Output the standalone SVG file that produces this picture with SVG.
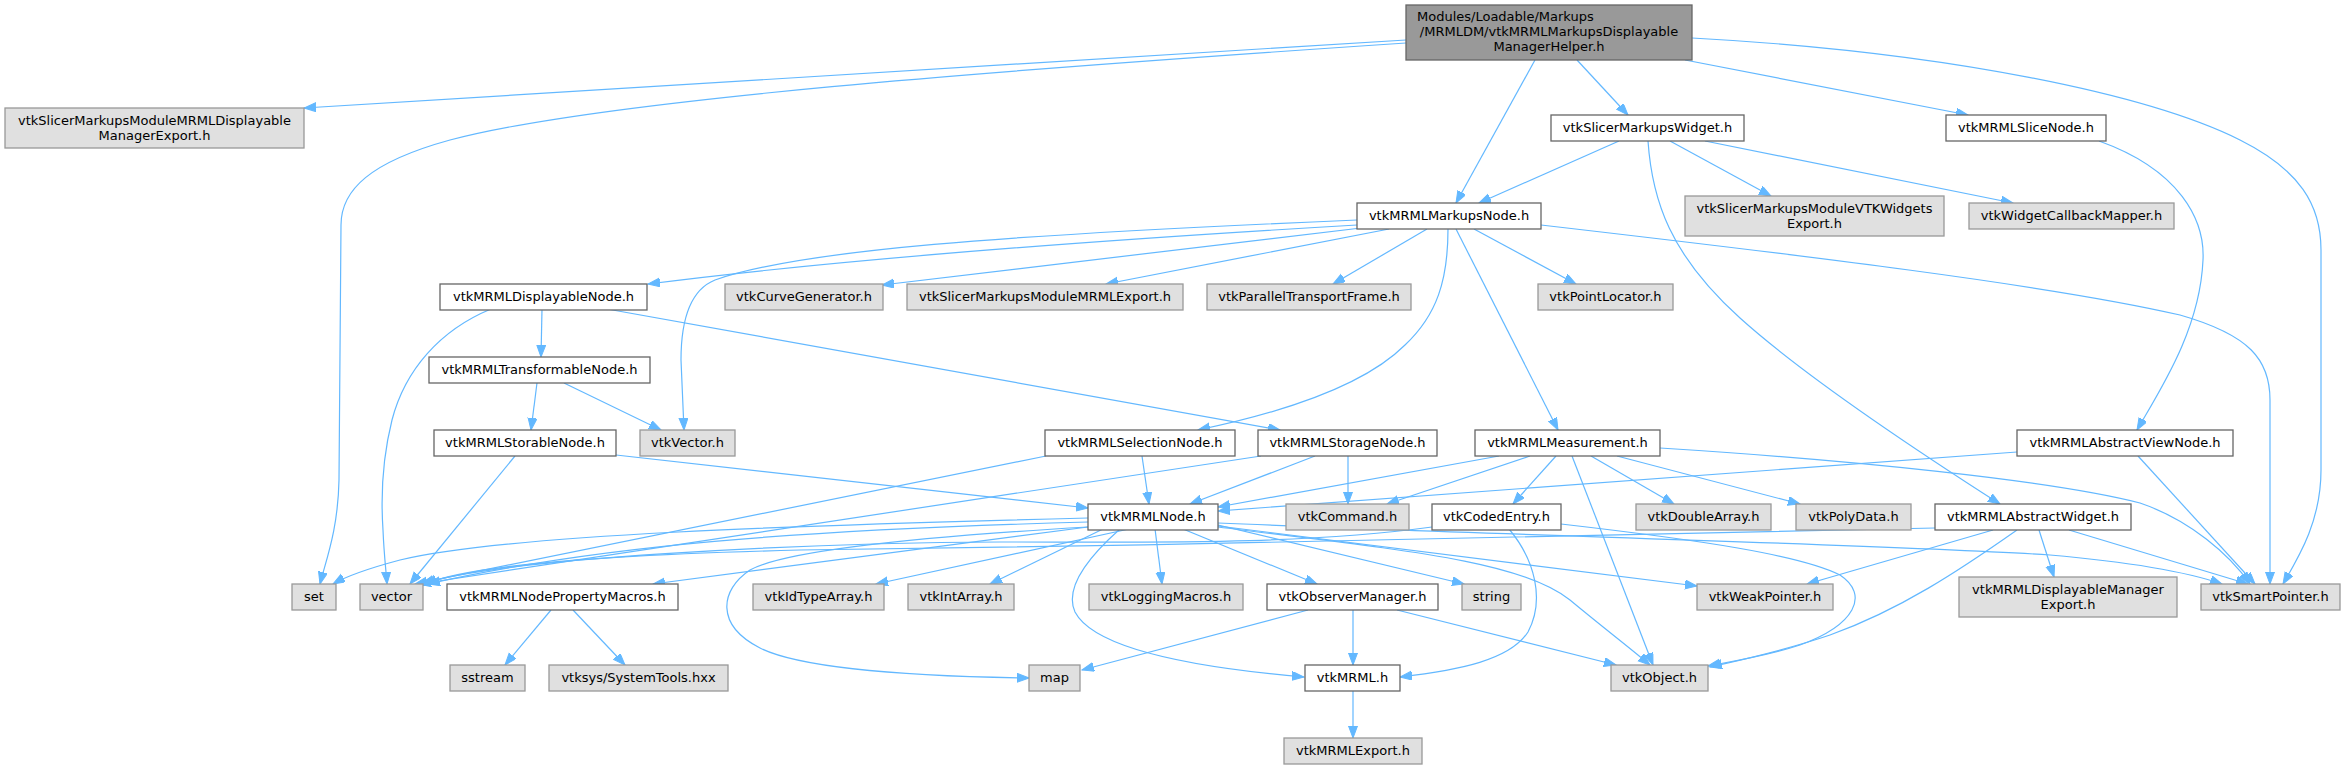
<svg xmlns="http://www.w3.org/2000/svg" width="2345" height="769" viewBox="0 0 2345 769">
<style>
.n rect{stroke-width:1.3}
.w rect{fill:#ffffff;stroke:#666666}
.g rect{fill:#e0e0e0;stroke:#999999}
.r rect{fill:#999999;stroke:#666666}
text{font-family:"DejaVu Sans","Liberation Sans",sans-serif;font-size:13px;fill:#000000;text-anchor:middle}
#edges path{fill:none;stroke:#63b8ff;stroke-width:1.2;marker-end:url(#ah)}
</style>
<defs>
<marker id="ah" markerUnits="userSpaceOnUse" markerWidth="13" markerHeight="10" refX="12" refY="4.5" orient="auto">
<path d="M0,0 L12,4.5 L0,9 z" fill="#63b8ff" stroke="#63b8ff" stroke-width="1"/>
</marker>
</defs>
<rect width="2345" height="769" fill="#ffffff"/>
<g id="edges">
<path d="M1406,40 C1000,62 650,85 304,108"/>
<path d="M1406,43 C1000,70 600,100 450,140 C370,162 341,190 341,225 L339,480 C338,530 326,560 320,584"/>
<path d="M1535,60 L1456,203"/>
<path d="M1577,60 L1628,115"/>
<path d="M1685,60 L1968,115"/>
<path d="M1692,38 C1950,52 2150,95 2240,140 C2300,170 2321,205 2321,250 L2321,470 C2321,520 2300,555 2283,584"/>
<path d="M1619,141 L1479,203"/>
<path d="M1670,141 L1771,196"/>
<path d="M1705,141 L2013,203"/>
<path d="M1648,141 C1652,200 1670,255 1740,318 C1800,372 1900,440 2000,504"/>
<path d="M2099,141 C2180,170 2205,220 2203,260 C2200,330 2160,390 2137,430"/>
<path d="M1357,220 C1000,235 800,250 715,280 C690,290 681,320 681,360 L684,430"/>
<path d="M1357,225 C1100,240 850,258 648,284"/>
<path d="M1361,228 L882,285"/>
<path d="M1389,229 L1106,284"/>
<path d="M1427,229 L1333,284"/>
<path d="M1448,229 C1448,280 1437,315 1405,345 C1360,390 1270,415 1198,430"/>
<path d="M1456,229 L1558,430"/>
<path d="M1474,229 L1576,284"/>
<path d="M1541,225 C1800,255 2050,285 2180,315 C2250,335 2270,360 2270,400 L2270,584"/>
<path d="M542,309 L541,357"/>
<path d="M491,309 C440,330 405,370 392,420 C382,460 381,500 383,530 C384,555 386,570 387,584"/>
<path d="M607,309 L1280,430"/>
<path d="M537,383 L531,430"/>
<path d="M564,383 L661,430"/>
<path d="M616,455 L1088,508"/>
<path d="M515,456 L410,584"/>
<path d="M1142,456 L1149,504"/>
<path d="M1046,456 L415,584"/>
<path d="M1315,456 L1190,504"/>
<path d="M1348,456 L1348,504"/>
<path d="M1261,456 L419,584"/>
<path d="M1499,456 L1218,507"/>
<path d="M1530,456 L1387,504"/>
<path d="M1556,456 L1513,504"/>
<path d="M1572,456 L1653,665"/>
<path d="M1591,456 L1674,504"/>
<path d="M1617,456 L1800,504"/>
<path d="M1660,448 C1850,460 2050,480 2140,503 C2190,520 2230,555 2250,584"/>
<path d="M2017,452 L1218,511"/>
<path d="M2138,456 L2255,584"/>
<path d="M1935,528 C1700,535 1200,545 800,550 C600,555 470,565 425,584"/>
<path d="M1993,530 L1807,584"/>
<path d="M2017,530 C1960,570 1900,610 1830,635 C1780,652 1740,660 1710,667"/>
<path d="M2039,530 L2054,577"/>
<path d="M2069,530 L2248,584"/>
<path d="M1432,527 C1300,545 1150,542 1000,542 C800,543 500,558 422,584"/>
<path d="M1509,529 C1535,560 1545,600 1528,632 C1510,660 1460,670 1400,677"/>
<path d="M1561,524 C1700,540 1800,555 1840,575 C1870,595 1855,625 1800,645 C1770,655 1740,660 1708,666"/>
<path d="M1088,518 C800,525 500,535 400,560 C370,568 345,577 333,584"/>
<path d="M1088,522 C800,530 600,545 428,584"/>
<path d="M1088,527 L653,584"/>
<path d="M1129,529 L876,584"/>
<path d="M1103,529 L990,584"/>
<path d="M1120,529 C1085,560 1065,590 1075,612 C1095,650 1200,668 1304,677"/>
<path d="M1155,529 L1162,584"/>
<path d="M1183,529 L1317,584"/>
<path d="M1218,525 L1464,584"/>
<path d="M1218,527 C1400,550 1520,560 1570,600 C1600,625 1630,648 1650,665"/>
<path d="M1218,526 L1697,586"/>
<path d="M1218,523 C1500,535 1900,545 2050,555 C2130,562 2190,573 2222,584"/>
<path d="M1088,527 C950,535 790,548 750,570 C720,590 715,625 760,648 C800,668 900,676 1029,678"/>
<path d="M1308,610 L1082,670"/>
<path d="M1353,610 L1353,665"/>
<path d="M1397,610 L1616,665"/>
<path d="M1353,691 L1353,738"/>
<path d="M551,610 L505,665"/>
<path d="M573,610 L625,665"/>
</g>
<g id="n_root" class="n r"><rect x="1406" y="5" width="286" height="55"/><text x="1417" y="21" style="text-anchor:start">Modules/Loadable/Markups</text><text x="1549" y="36">/MRMLDM/vtkMRMLMarkupsDisplayable</text><text x="1549" y="51">ManagerHelper.h</text></g>
<g id="n_exp1" class="n g"><rect x="5" y="108" width="299" height="40"/><text x="154.5" y="124.5">vtkSlicerMarkupsModuleMRMLDisplayable</text><text x="154.5" y="139.5">ManagerExport.h</text></g>
<g id="n_widget" class="n w"><rect x="1551" y="115" width="193" height="26"/><text x="1647.5" y="132">vtkSlicerMarkupsWidget.h</text></g>
<g id="n_slice" class="n w"><rect x="1946" y="115" width="160" height="26"/><text x="2026" y="132">vtkMRMLSliceNode.h</text></g>
<g id="n_markups" class="n w"><rect x="1357" y="203" width="184" height="26"/><text x="1449" y="220">vtkMRMLMarkupsNode.h</text></g>
<g id="n_vtkwexp" class="n g"><rect x="1685" y="196" width="259" height="40"/><text x="1814.5" y="212.5">vtkSlicerMarkupsModuleVTKWidgets</text><text x="1814.5" y="227.5">Export.h</text></g>
<g id="n_wcm" class="n g"><rect x="1969" y="203" width="205" height="26"/><text x="2071.5" y="220">vtkWidgetCallbackMapper.h</text></g>
<g id="n_disp" class="n w"><rect x="440" y="284" width="207" height="26"/><text x="543.5" y="301">vtkMRMLDisplayableNode.h</text></g>
<g id="n_curve" class="n g"><rect x="725" y="284" width="158" height="26"/><text x="804" y="301">vtkCurveGenerator.h</text></g>
<g id="n_mexp" class="n g"><rect x="907" y="284" width="276" height="26"/><text x="1045" y="301">vtkSlicerMarkupsModuleMRMLExport.h</text></g>
<g id="n_ptf" class="n g"><rect x="1207" y="284" width="204" height="26"/><text x="1309" y="301">vtkParallelTransportFrame.h</text></g>
<g id="n_ploc" class="n g"><rect x="1538" y="284" width="135" height="26"/><text x="1605.5" y="301">vtkPointLocator.h</text></g>
<g id="n_trans" class="n w"><rect x="429" y="357" width="221" height="26"/><text x="539.5" y="374">vtkMRMLTransformableNode.h</text></g>
<g id="n_storable" class="n w"><rect x="434" y="430" width="182" height="26"/><text x="525" y="447">vtkMRMLStorableNode.h</text></g>
<g id="n_vectorh" class="n g"><rect x="640" y="430" width="95" height="26"/><text x="687.5" y="447">vtkVector.h</text></g>
<g id="n_sel" class="n w"><rect x="1045" y="430" width="190" height="26"/><text x="1140" y="447">vtkMRMLSelectionNode.h</text></g>
<g id="n_storage" class="n w"><rect x="1258" y="430" width="179" height="26"/><text x="1347.5" y="447">vtkMRMLStorageNode.h</text></g>
<g id="n_meas" class="n w"><rect x="1475" y="430" width="185" height="26"/><text x="1567.5" y="447">vtkMRMLMeasurement.h</text></g>
<g id="n_aview" class="n w"><rect x="2017" y="430" width="216" height="26"/><text x="2125" y="447">vtkMRMLAbstractViewNode.h</text></g>
<g id="n_node" class="n w"><rect x="1088" y="504" width="130" height="26"/><text x="1153" y="521">vtkMRMLNode.h</text></g>
<g id="n_cmd" class="n g"><rect x="1286" y="504" width="123" height="26"/><text x="1347.5" y="521">vtkCommand.h</text></g>
<g id="n_coded" class="n w"><rect x="1432" y="504" width="129" height="26"/><text x="1496.5" y="521">vtkCodedEntry.h</text></g>
<g id="n_darr" class="n g"><rect x="1636" y="504" width="135" height="26"/><text x="1703.5" y="521">vtkDoubleArray.h</text></g>
<g id="n_poly" class="n g"><rect x="1796" y="504" width="115" height="26"/><text x="1853.5" y="521">vtkPolyData.h</text></g>
<g id="n_awidget" class="n w"><rect x="1935" y="504" width="196" height="26"/><text x="2033" y="521">vtkMRMLAbstractWidget.h</text></g>
<g id="n_set" class="n g"><rect x="292" y="584" width="44" height="26"/><text x="314" y="601">set</text></g>
<g id="n_vector" class="n g"><rect x="360" y="584" width="63" height="26"/><text x="391.5" y="601">vector</text></g>
<g id="n_npm" class="n w"><rect x="447" y="584" width="231" height="26"/><text x="562.5" y="601">vtkMRMLNodePropertyMacros.h</text></g>
<g id="n_idt" class="n g"><rect x="753" y="584" width="131" height="26"/><text x="818.5" y="601">vtkIdTypeArray.h</text></g>
<g id="n_iarr" class="n g"><rect x="908" y="584" width="106" height="26"/><text x="961" y="601">vtkIntArray.h</text></g>
<g id="n_log" class="n g"><rect x="1089" y="584" width="154" height="26"/><text x="1166" y="601">vtkLoggingMacros.h</text></g>
<g id="n_obsm" class="n w"><rect x="1267" y="584" width="171" height="26"/><text x="1352.5" y="601">vtkObserverManager.h</text></g>
<g id="n_string" class="n g"><rect x="1462" y="584" width="59" height="26"/><text x="1491.5" y="601">string</text></g>
<g id="n_weak" class="n g"><rect x="1697" y="584" width="136" height="26"/><text x="1765" y="601">vtkWeakPointer.h</text></g>
<g id="n_dmexp" class="n g"><rect x="1959" y="577" width="218" height="40"/><text x="2068" y="593.5">vtkMRMLDisplayableManager</text><text x="2068" y="608.5">Export.h</text></g>
<g id="n_smart" class="n g"><rect x="2201" y="584" width="139" height="26"/><text x="2270.5" y="601">vtkSmartPointer.h</text></g>
<g id="n_sstream" class="n g"><rect x="450" y="665" width="75" height="26"/><text x="487.5" y="682">sstream</text></g>
<g id="n_systools" class="n g"><rect x="549" y="665" width="179" height="26"/><text x="638.5" y="682">vtksys/SystemTools.hxx</text></g>
<g id="n_map" class="n g"><rect x="1029" y="665" width="51" height="26"/><text x="1054.5" y="682">map</text></g>
<g id="n_mrml" class="n w"><rect x="1305" y="665" width="95" height="26"/><text x="1352.5" y="682">vtkMRML.h</text></g>
<g id="n_obj" class="n g"><rect x="1611" y="665" width="97" height="26"/><text x="1659.5" y="682">vtkObject.h</text></g>
<g id="n_mexp2" class="n g"><rect x="1284" y="738" width="138" height="26"/><text x="1353" y="755">vtkMRMLExport.h</text></g>
</svg>
